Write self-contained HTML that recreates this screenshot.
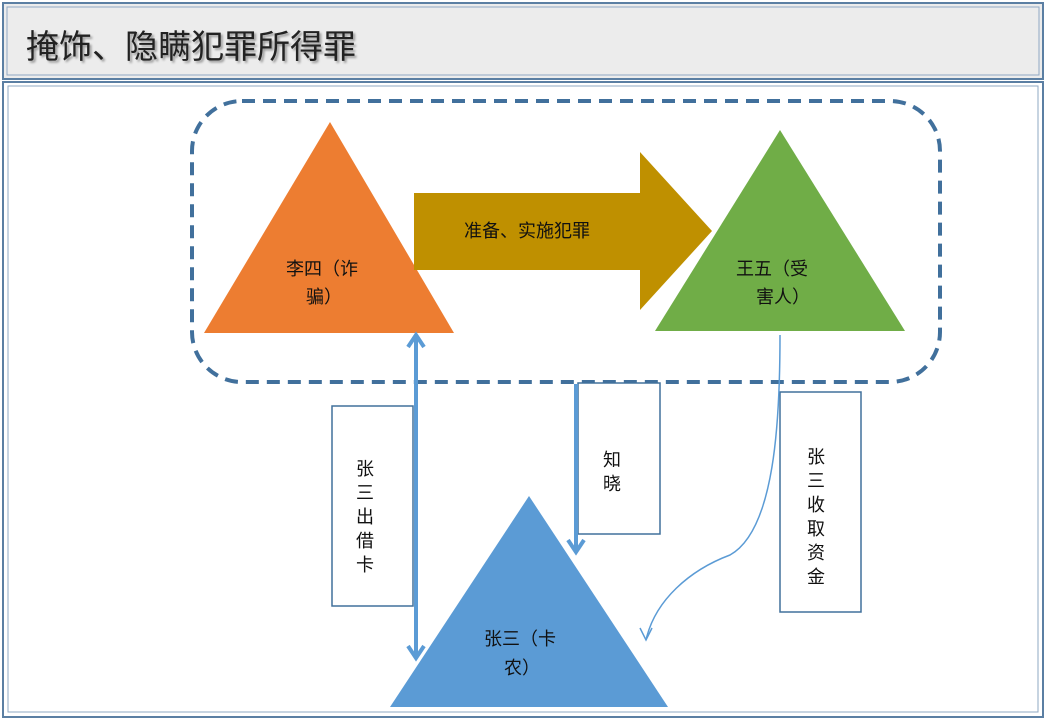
<!DOCTYPE html>
<html><head><meta charset="utf-8"><style>
body{margin:0;width:1046px;height:722px;background:#fff;overflow:hidden;font-family:"Liberation Sans","Noto Sans CJK SC",sans-serif}
</style></head><body>
<svg width="1046" height="722" xmlns="http://www.w3.org/2000/svg" style="position:absolute;left:0;top:0">
<rect x="3" y="3" width="1040" height="76" fill="#ececec" stroke="#5b7fa3" stroke-width="2"/>
<rect x="7" y="7" width="1032" height="68" fill="none" stroke="#8fa9c3" stroke-width="1"/>
<text x="26" y="58" font-size="33" fill="#222" font-family="Noto Sans CJK SC, sans-serif" style="text-shadow:2px 2px 2px #999">掩饰、隐瞒犯罪所得罪</text>
<rect x="3" y="82" width="1040" height="635" fill="#fff" stroke="#5b7fa3" stroke-width="2"/>
<rect x="8" y="86" width="1030" height="626" fill="none" stroke="#8fa9c3" stroke-width="1"/>
<rect x="192" y="101" width="748" height="281" rx="50" fill="none" stroke="#41709c" stroke-width="4" stroke-dasharray="13 8"/>
<polygon points="330,122 204,333 454,333" fill="#ed7d31"/>
<polygon points="780,130 655,331 905,331" fill="#70ad47"/>
<polygon points="529,496 390,707 668,707" fill="#5b9bd5"/>
<polygon points="414,193 640,193 640,152 712,231 640,310 640,270 414,270" fill="#bf9000"/>
<g font-size="18" fill="#111" font-family="Noto Sans CJK SC, sans-serif">
<text x="286" y="275">李四（诈</text><text x="306" y="303">骗）</text>
<text x="736" y="275">王五（受</text><text x="756" y="303">害人）</text>
<text x="464" y="237">准备、实施犯罪</text>
<text x="484" y="645">张三（卡</text><text x="504" y="674">农）</text>
</g>
<g fill="#fff" stroke="#41709c" stroke-width="1.5">
<rect x="332" y="406" width="81" height="200"/>
<rect x="578" y="383" width="82" height="151"/>
<rect x="780" y="392" width="81" height="220"/>
</g>
<g font-size="18" fill="#111" font-family="Noto Sans CJK SC, sans-serif" text-anchor="middle">
<text x="365" y="475">张</text><text x="365" y="499">三</text><text x="365" y="523">出</text><text x="365" y="547">借</text><text x="365" y="571">卡</text>
<text x="612" y="466">知</text><text x="612" y="490">晓</text>
<text x="816" y="463">张</text><text x="816" y="487">三</text><text x="816" y="511">收</text><text x="816" y="535">取</text><text x="816" y="559">资</text><text x="816" y="583">金</text>
</g>
<g stroke="#5b9bd5" stroke-width="4" fill="none">
<line x1="416" y1="335" x2="416" y2="658"/>
<polyline points="408,347 416,335 424,347"/>
<polyline points="408,646 416,658 424,646"/>
<line x1="576" y1="384" x2="576" y2="552"/>
<polyline points="568,540 576,552 584,540"/>
</g>
<path d="M780,335 C780,420 775,530 730,555 C690,570 655,600 646,640" stroke="#5b9bd5" stroke-width="1.5" fill="none"/>
<polyline points="640,628 646,640 652,628" stroke="#5b9bd5" stroke-width="1.5" fill="none"/>
</svg>
</body></html>
